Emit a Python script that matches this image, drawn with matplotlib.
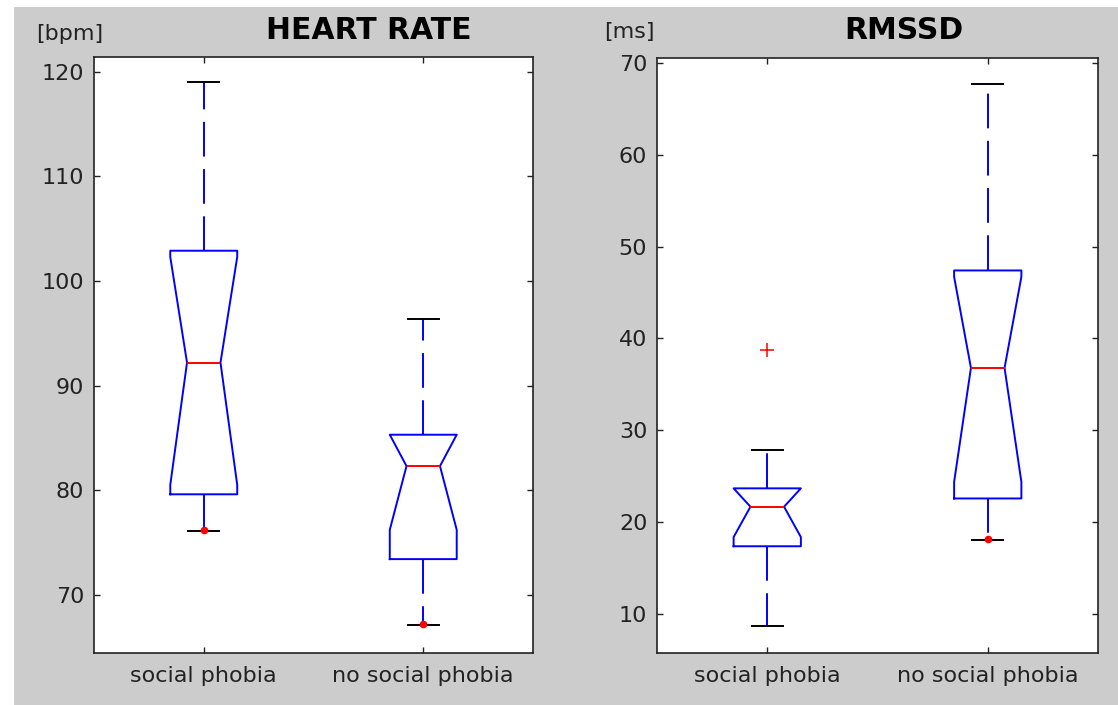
import matplotlib.pyplot as plt
from matplotlib.patches import Rectangle

plt.rcParams['font.family'] = 'DejaVu Sans'
plt.rcParams['lines.scale_dashes'] = False

# ---- data ----
groups = ["social phobia", "no social phobia"]

# heart rate [bpm]
hr_whislo = [76.1, 67.1]
hr_q1 = [79.6, 73.4]
hr_med = [92.2, 82.3]
hr_q3 = [102.9, 85.3]
hr_whishi = [119.0, 96.4]
hr_cilo = [80.5, 76.2]
hr_cihi = [102.3, 85.3]
hr_outliers = [[], []]
hr_dots = [76.2, 67.2]

# RMSSD [ms]
rm_whislo = [8.7, 18.1]
rm_q1 = [17.4, 22.6]
rm_med = [21.7, 36.8]
rm_q3 = [23.7, 47.4]
rm_whishi = [27.9, 67.7]
rm_cilo = [18.4, 24.4]
rm_cihi = [23.7, 46.7]
rm_outliers = [[38.8], []]
rm_dots = [None, 18.2]

W, H = 1118, 705
fig = plt.figure(figsize=(W / 100, H / 100), dpi=100, facecolor='white')
fig.patches.append(Rectangle((14 / W, 0), 1 - 14 / W, 1 - 7 / H,
                             transform=fig.transFigure, facecolor='#cccccc',
                             edgecolor='none', zorder=-10))


def px_rect(x0, y0, x1, y1):
    return [x0 / W, 1 - y1 / H, (x1 - x0) / W, (y1 - y0) / H]


def make_stats(lo, q1, med, q3, hi, cilo, cihi, fl):
    out = []
    for i in range(len(groups)):
        out.append(dict(whislo=lo[i], q1=q1[i], med=med[i], q3=q3[i],
                        whishi=hi[i], cilo=cilo[i], cihi=cihi[i],
                        fliers=fl[i], label=groups[i]))
    return out


def draw_panel(ax, stats, dots, ylim, yticks):
    ax.bxp(stats, positions=[1, 2], widths=0.305, capwidths=0.14,
           shownotches=True, manage_ticks=False,
           boxprops=dict(color='blue', lw=1.4),
           medianprops=dict(color='red', lw=1.4),
           whiskerprops=dict(color='blue', lw=1.4, linestyle=(0, (25, 9))),
           capprops=dict(color='black', lw=1.4),
           flierprops=dict(marker='+', markeredgecolor='red', markersize=10,
                           markeredgewidth=1.1))
    for i, d in enumerate(dots):
        if d is not None:
            ax.plot(i + 1, d, 'o', color='red', ms=4.5, zorder=5)
    ax.set_xlim(0.5, 2.5)
    ax.set_ylim(*ylim)
    ax.set_xticks([1, 2])
    ax.set_xticklabels(groups)
    ax.set_yticks(yticks)
    ax.tick_params(direction='in', length=4, width=1, top=True, right=True,
                   colors='#222222', labelsize=16)
    ax.tick_params(axis='x', pad=9)
    ax.tick_params(axis='y', pad=7)
    for s in ax.spines.values():
        s.set_linewidth(1.2)
        s.set_color('#222222')


# ---- heart rate ----
ax1 = fig.add_axes(px_rect(94, 57, 533, 653))
draw_panel(ax1, make_stats(hr_whislo, hr_q1, hr_med, hr_q3, hr_whishi,
                           hr_cilo, hr_cihi, hr_outliers),
           hr_dots, (64.42, 121.43), [70, 80, 90, 100, 110, 120])

# ---- RMSSD ----
ax2 = fig.add_axes(px_rect(657, 58, 1098, 653))
draw_panel(ax2, make_stats(rm_whislo, rm_q1, rm_med, rm_q3, rm_whishi,
                           rm_cilo, rm_cihi, rm_outliers),
           rm_dots, (5.79, 70.51), [10, 20, 30, 40, 50, 60, 70])

# titles and units
fig.text(369 / W, 1 - 39 / H, "HEART RATE", ha='center', va='baseline',
         fontsize=21.5, fontweight='bold', color='black')
fig.text(904 / W, 1 - 39 / H, "RMSSD", ha='center', va='baseline',
         fontsize=21.5, fontweight='bold', color='black')
fig.text(70 / W, 1 - 40 / H, "[bpm]", ha='center', va='baseline',
         fontsize=16, color='#222222')
fig.text(629 / W, 1 - 38 / H, "[ms]", ha='center', va='baseline',
         fontsize=16, color='#222222')

fig.savefig("out.png", dpi=100, facecolor=fig.get_facecolor())
